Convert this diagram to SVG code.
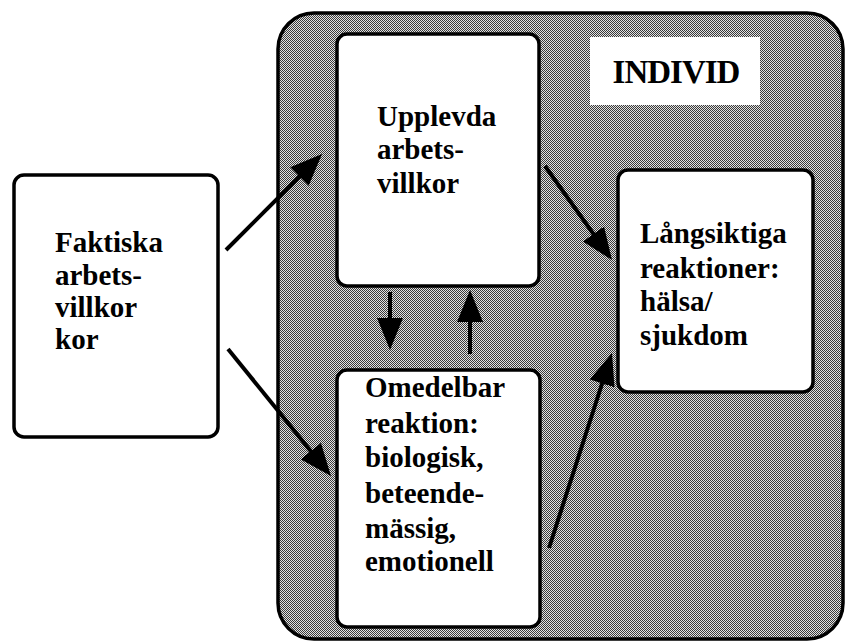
<svg xmlns="http://www.w3.org/2000/svg" width="848" height="644" viewBox="0 0 848 644">
<defs>
<pattern id="dither" width="2" height="2" patternUnits="userSpaceOnUse">
<rect width="2" height="2" fill="#e2e2e2"/>
<rect x="0" y="0" width="1" height="1" fill="#3a3a3a"/>
<rect x="1" y="1" width="1" height="1" fill="#3a3a3a"/>
</pattern>
<marker id="ah" viewBox="0 0 32 26" refX="22" refY="13" markerWidth="32" markerHeight="26" markerUnits="userSpaceOnUse" orient="auto">
<path d="M0,0 L32,13 L0,26 z" fill="#000"/>
</marker>
</defs>
<style>
.box{fill:#fff;stroke:#000;stroke-width:3.5}
.lbl{font-family:'Liberation Serif',serif !important;font-weight:bold;font-size:29px;fill:#000}
.big{font-size:33px;letter-spacing:-1px}
.arr{stroke:#000;stroke-width:4;fill:none;marker-end:url(#ah)}
</style>
<rect width="848" height="644" fill="#fff"/>
<g id="individ">
<rect x="278" y="13" width="565" height="626" rx="36" fill="url(#dither)" stroke="#000" stroke-width="3.5"/>
<rect x="590" y="37" width="170" height="68" fill="#fff"/>
<text class="lbl big" style="font-family:'Liberation Serif',serif" x="676" y="83" text-anchor="middle">INDIVID</text>
</g>
<g id="faktiska">
<rect class="box" x="14" y="175" width="204" height="262" rx="10"/>
<text class="lbl" style="font-family:'Liberation Serif',serif" x="55" y="252">Faktiska</text>
<text class="lbl" style="font-family:'Liberation Serif',serif" x="55" y="285">arbets-</text>
<text class="lbl" style="font-family:'Liberation Serif',serif" x="55" y="317">villkor</text>
<text class="lbl" style="font-family:'Liberation Serif',serif" x="55" y="349">kor</text>
</g>
<g id="upplevda">
<rect class="box" x="337" y="34" width="202" height="252" rx="10"/>
<text class="lbl" style="font-family:'Liberation Serif',serif" x="377" y="126">Upplevda</text>
<text class="lbl" style="font-family:'Liberation Serif',serif" x="377" y="159">arbets-</text>
<text class="lbl" style="font-family:'Liberation Serif',serif" x="377" y="193">villkor</text>
</g>
<g id="omedelbar">
<rect class="box" x="337" y="370" width="203" height="257" rx="10"/>
<text class="lbl" style="font-family:'Liberation Serif',serif" x="365" y="397">Omedelbar</text>
<text class="lbl" style="font-family:'Liberation Serif',serif" x="365" y="433">reaktion:</text>
<text class="lbl" style="font-family:'Liberation Serif',serif" x="365" y="467">biologisk,</text>
<text class="lbl" style="font-family:'Liberation Serif',serif" x="365" y="503">beteende-</text>
<text class="lbl" style="font-family:'Liberation Serif',serif" x="365" y="538">mässig,</text>
<text class="lbl" style="font-family:'Liberation Serif',serif" x="365" y="571">emotionell</text>
</g>
<g id="langsiktiga">
<rect class="box" x="618" y="170" width="195" height="222" rx="10"/>
<text class="lbl" style="font-family:'Liberation Serif',serif" x="640" y="243">Långsiktiga</text>
<text class="lbl" style="font-family:'Liberation Serif',serif" x="640" y="278">reaktioner:</text>
<text class="lbl" style="font-family:'Liberation Serif',serif" x="640" y="311">hälsa/</text>
<text class="lbl" style="font-family:'Liberation Serif',serif" x="640" y="345">sjukdom</text>
</g>
<g id="connectors">
<line class="arr" x1="226" y1="250" x2="315" y2="161"/>
<line class="arr" x1="228" y1="349" x2="324.7" y2="468.2"/>
<line class="arr" x1="545" y1="166" x2="606.2" y2="251.9"/>
<line class="arr" x1="549" y1="548" x2="608.9" y2="362.5"/>
<line class="arr" x1="390" y1="292" x2="390" y2="340"/>
<line class="arr" x1="470" y1="354" x2="470" y2="300"/>
</g>
</svg>
